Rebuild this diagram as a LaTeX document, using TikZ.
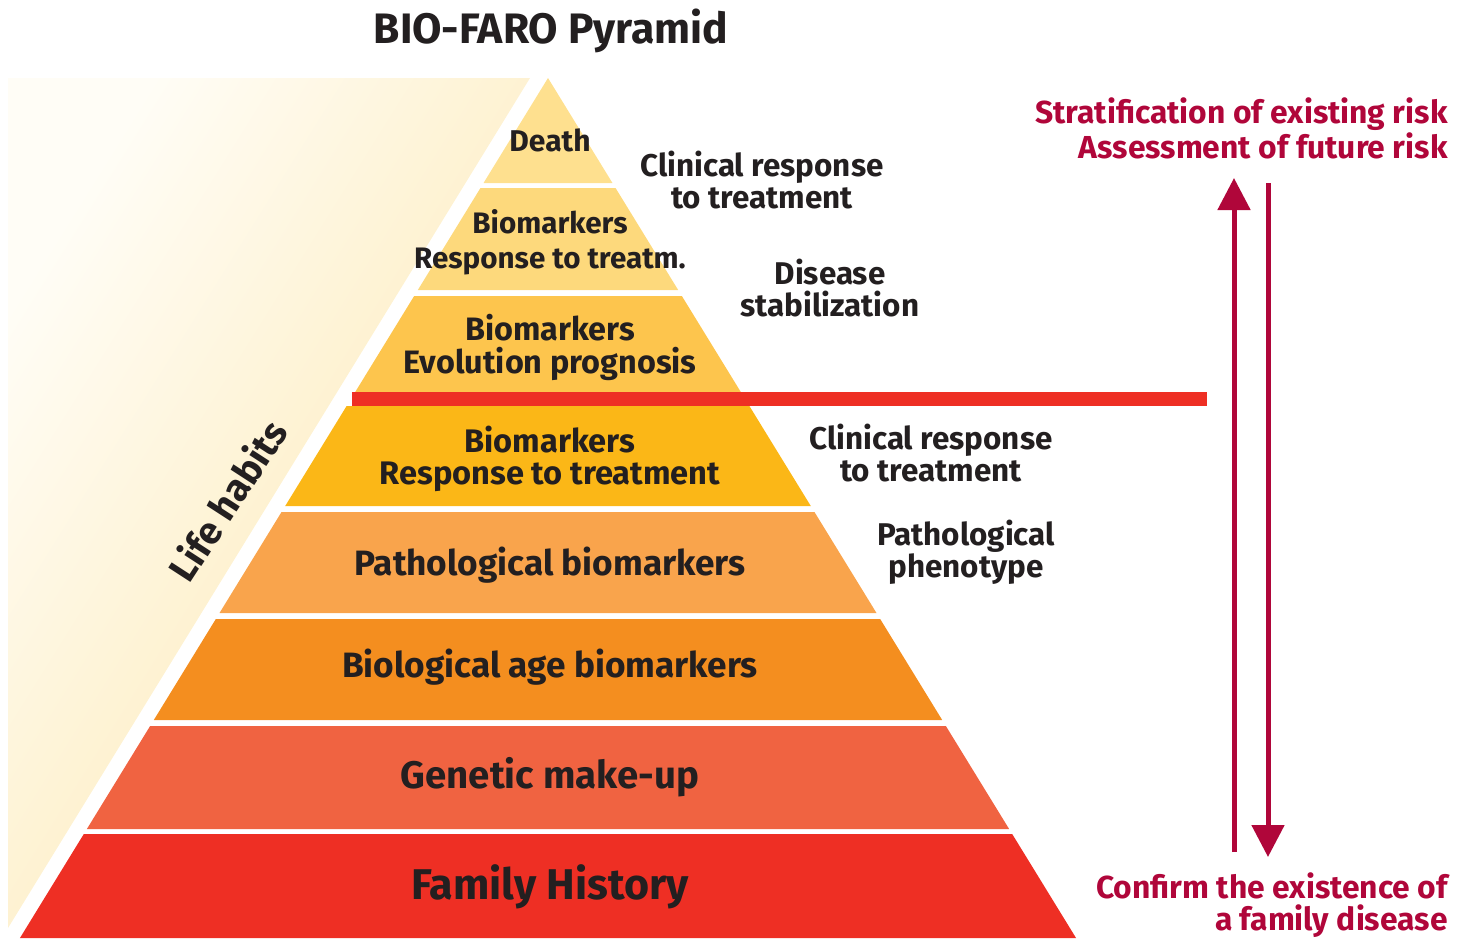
\documentclass[tikz,border=0pt]{standalone}
\usepackage{fontspec}
\setmainfont{Fira Sans}
\usetikzlibrary{arrows.meta,positioning,calc}

\definecolor{inkdark}{HTML}{231F20}
\definecolor{crimson}{HTML}{B0063A}
\definecolor{barred}{HTML}{EE2F24}
\definecolor{beigeL}{HTML}{FFFDF6}
\definecolor{beigeD}{HTML}{FDE7AE}
\definecolor{bandA}{HTML}{FEE08F}
\definecolor{bandB}{HTML}{FDD97C}
\definecolor{bandC}{HTML}{FDC54D}
\definecolor{bandD}{HTML}{FBB717}
\definecolor{bandE}{HTML}{F9A44C}
\definecolor{bandF}{HTML}{F48E1F}
\definecolor{bandG}{HTML}{F06341}
\definecolor{bandH}{HTML}{EE2F24}

\tikzset{
  txt/.style={text=inkdark, align=center, inner sep=0pt},
  outcome/.style={txt, font=\bfseries\fontsize{15.7pt}{16pt}\selectfont},
  risk/.style={text=crimson, align=right, inner sep=0pt, anchor=east,
    font=\bfseries\fontsize{15.9pt}{16pt}\selectfont},
  riskarrow/.style={draw=crimson, line width=2.5pt,
    -{Triangle[width=16pt,length=16pt]}}
}

\begin{document}
\begin{tikzpicture}[x=0.5pt,y=-0.5pt]
    \useasboundingbox (0,0) rectangle (1467,938);
    %%% Life habits background
    \shade[top color=beigeL, middle color=beigeD, bottom color=beigeD, shading angle=58]
        (8,78) -- (530,78) -- (8,928) -- cycle;
    \node[txt,rotate=57,font=\bfseries\fontsize{19pt}{20pt}\selectfont] (habits) at (227,500) {Life habits};

    %%% Pyramid
    \foreach \t/\b/\c in {78/183/bandA, 188/290/bandB, 296/392/bandC, 406/506/bandD,
                          512/613/bandE, 619/720/bandF, 726/829/bandG, 834/938/bandH}
        \fill[\c] ({548-0.614*(\t-78)},\t) -- ({548+0.614*(\t-78)},\t)
                  -- ({548+0.614*(\b-78)},\b) -- ({548-0.614*(\b-78)},\b) -- cycle;
    \fill[barred] (352,392) rectangle (1207,406);

    \node[txt,font=\bfseries\fontsize{21.3pt}{24pt}\selectfont] (title) at (551,31) {BIO-FARO Pyramid};

    \node[txt,font=\bfseries\fontsize{15pt}{16pt}\selectfont] (death) at (550,140) {Death};
    \node[txt,font=\bfseries\fontsize{14.8pt}{17.5pt}\selectfont] (treatm) at (550,242) {Biomarkers\\Response to treatm.};
    \node[txt,font=\bfseries\fontsize{16.2pt}{16.5pt}\selectfont] (evol) at (550,347) {Biomarkers\\Evolution prognosis};
    \node[txt,font=\bfseries\fontsize{16.3pt}{16pt}\selectfont] (respt) at (550,459) {Biomarkers\\Response to treatment};
    \node[txt,font=\bfseries\fontsize{17.6pt}{20pt}\selectfont] (patbio) at (550,565) {Pathological biomarkers};
    \node[txt,font=\bfseries\fontsize{17.6pt}{20pt}\selectfont] (bioage) at (550,667) {Biological age biomarkers};
    \node[txt,font=\bfseries\fontsize{19.2pt}{22pt}\selectfont] (genetic) at (550,777) {Genetic make-up};
    \node[txt,font=\bfseries\fontsize{21.5pt}{24pt}\selectfont] (family) at (550,887) {Family History};

    %%% Outcomes
    \node[outcome] (clinA) at (762,180) {Clinical response\\to treatment};
    \node[outcome] (stab) at (830,288) {Disease\\stabilization};
    \node[outcome] (clinB) at (931,453) {Clinical response\\to treatment};
    \node[outcome] (pheno) at (966,552) {Pathological\\phenotype};

    %%% Risk
    \node[risk] (strat) at (1448,128) {Stratification of existing risk\\Assessment of future risk};
    \node[risk] (confirm) at (1448,905) {Confirm the existence of\\a family disease};

    \coordinate (upfrom) at (1234,852);
    \coordinate (upto) at (1234,178);
    \coordinate (downfrom) at (1268,183);
    \coordinate (downto) at (1268,857);
    \draw[riskarrow] (upfrom) -- (upto);
    \draw[riskarrow] (downfrom) -- (downto);
\end{tikzpicture}
\end{document}
